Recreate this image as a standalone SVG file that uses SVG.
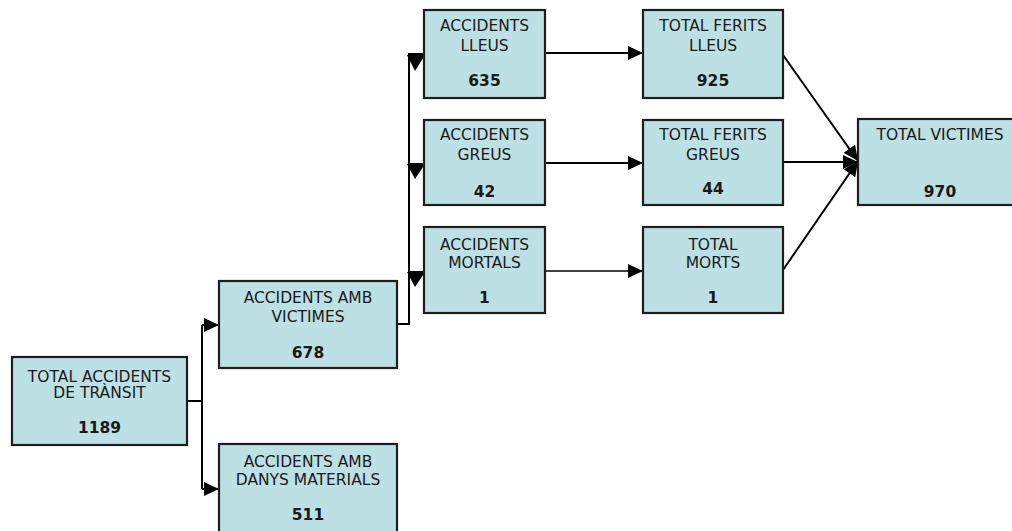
<svg xmlns="http://www.w3.org/2000/svg" width="1012" height="531" viewBox="0 0 1012 531">
<defs>
<style>
.box{fill:#bce0e3;stroke:#1e1e1e;stroke-width:2.2}
.t{font-family:"DejaVu Sans",Verdana,sans-serif;font-size:15.5px;fill:#1a1a1a;text-anchor:middle}
.n{font-weight:bold}
.c{fill:none;stroke:#000;stroke-width:2}
.thin{stroke-width:1.3}
.ah{fill:#000}
</style>
<marker id="arr" markerUnits="userSpaceOnUse" markerWidth="16" markerHeight="16" refX="15" refY="7" orient="auto">
<path d="M0,0 L15,7 L0,14 z" fill="#000"/>
</marker>
</defs>
<rect width="1012" height="531" fill="#fff"/>
<g id="connectors">
<path class="c" d="M187,401 H202 M202,325 V489"/>
<path class="c" d="M202,325 H219" marker-end="url(#arr)"/>
<path class="c" d="M202,489 H219" marker-end="url(#arr)"/>
<path class="c" d="M397,324 H409 V54 H425 M409,164 H425 M409,272 H425"/>
<polygon class="ah" points="407,55 425,55 415,71"/>
<polygon class="ah" points="407,164 425,164 415,179"/>
<polygon class="ah" points="407,272 425,272 415,287"/>
<path class="c" d="M545,53 H643" marker-end="url(#arr)"/>
<path class="c" d="M545,163 H643" marker-end="url(#arr)"/>
<path class="c thin" d="M545,271 H643" marker-end="url(#arr)"/>
<path class="c" d="M783,55 L858,161" marker-end="url(#arr)"/>
<path class="c" d="M783,162 H858" marker-end="url(#arr)"/>
<path class="c" d="M783,270 L858,161" marker-end="url(#arr)"/>
</g>
<g id="total">
<rect class="box" x="12" y="357" width="175" height="88"/>
<text class="t" x="99.5" y="382">TOTAL ACCIDENTS</text>
<text class="t" x="99.5" y="398">DE TRÀNSIT</text>
<text class="t n" x="99.5" y="433">1189</text>
</g>
<g id="amb-victimes">
<rect class="box" x="219" y="281" width="178" height="87"/>
<text class="t" x="308" y="303">ACCIDENTS AMB</text>
<text class="t" x="308" y="322">VICTIMES</text>
<text class="t n" x="308" y="358">678</text>
</g>
<g id="amb-danys">
<rect class="box" x="219" y="444" width="178" height="92"/>
<text class="t" x="308" y="467">ACCIDENTS AMB</text>
<text class="t" x="308" y="485">DANYS MATERIALS</text>
<text class="t n" x="308" y="520">511</text>
</g>
<g id="acc-lleus">
<rect class="box" x="424" y="10" width="121" height="88"/>
<text class="t" x="484.5" y="31">ACCIDENTS</text>
<text class="t" x="484.5" y="51">LLEUS</text>
<text class="t n" x="484.5" y="86">635</text>
</g>
<g id="acc-greus">
<rect class="box" x="424" y="120" width="121" height="85"/>
<text class="t" x="484.5" y="140">ACCIDENTS</text>
<text class="t" x="484.5" y="160">GREUS</text>
<text class="t n" x="484.5" y="197">42</text>
</g>
<g id="acc-mortals">
<rect class="box" x="424" y="227" width="121" height="86"/>
<text class="t" x="484.5" y="250">ACCIDENTS</text>
<text class="t" x="484.5" y="268">MORTALS</text>
<text class="t n" x="484.5" y="303">1</text>
</g>
<g id="ferits-lleus">
<rect class="box" x="643" y="10" width="140" height="88"/>
<text class="t" x="713" y="31">TOTAL FERITS</text>
<text class="t" x="713" y="51">LLEUS</text>
<text class="t n" x="713" y="86">925</text>
</g>
<g id="ferits-greus">
<rect class="box" x="643" y="120" width="140" height="85"/>
<text class="t" x="713" y="140">TOTAL FERITS</text>
<text class="t" x="713" y="160">GREUS</text>
<text class="t n" x="713" y="194">44</text>
</g>
<g id="morts">
<rect class="box" x="643" y="227" width="140" height="86"/>
<text class="t" x="713" y="250">TOTAL</text>
<text class="t" x="713" y="268">MORTS</text>
<text class="t n" x="713" y="303">1</text>
</g>
<g id="victimes">
<rect class="box" x="858" y="119" width="164" height="86"/>
<text class="t" x="940" y="140">TOTAL VICTIMES</text>
<text class="t n" x="940" y="197">970</text>
</g>
</svg>
